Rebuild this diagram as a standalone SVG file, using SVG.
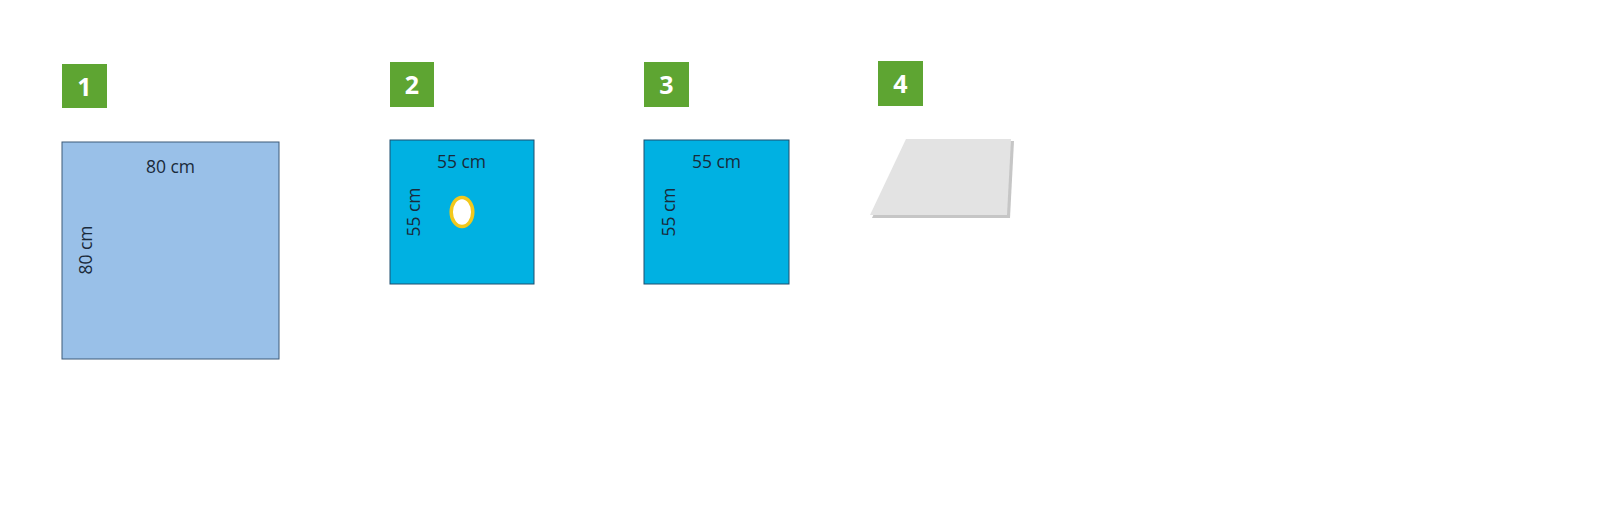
<svg xmlns="http://www.w3.org/2000/svg" width="1600" height="513" viewBox="0 0 1600 513">
<style>
.badge{fill:#5ea532}
.num{font-family:"Open Sans","Liberation Sans",sans-serif;font-weight:bold;font-size:25px;fill:#fff;text-anchor:middle}
.lbl{font-family:"Open Sans","Liberation Sans",sans-serif;font-size:17.5px;fill:#1a2a3a;text-anchor:middle}
.sheet1{fill:#99c0e8;stroke:#3c5a78;stroke-width:1}
.sheet2{fill:#00b1e2;stroke:#1f4e6e;stroke-width:1}
</style>
<rect width="1600" height="513" fill="#fff"/>
<g id="node1">
<rect class="badge" x="62" y="64" width="45" height="44"/>
<text class="num" x="84.5" y="95.5">1</text>
<rect class="sheet1" x="62" y="142" width="217" height="217"/>
<text class="lbl" x="170.5" y="173">80 cm</text>
<text class="lbl" transform="translate(91.5,250) rotate(-90)">80 cm</text>
</g>
<g id="node2">
<rect class="badge" x="390" y="62" width="44" height="45"/>
<text class="num" x="412" y="94">2</text>
<rect class="sheet2" x="390" y="140" width="144" height="144"/>
<text class="lbl" x="461.5" y="168">55 cm</text>
<text class="lbl" transform="translate(419.5,212) rotate(-90)">55 cm</text>
<ellipse cx="462" cy="212" rx="10.8" ry="14.6" fill="#fff" stroke="#f2c81c" stroke-width="3.5"/>
</g>
<g id="node3">
<rect class="badge" x="644" y="62" width="45" height="45"/>
<text class="num" x="666.5" y="94">3</text>
<rect class="sheet2" x="644" y="140" width="145" height="144"/>
<text class="lbl" x="716.5" y="168">55 cm</text>
<text class="lbl" transform="translate(674.5,212) rotate(-90)">55 cm</text>
</g>
<g id="node4">
<rect class="badge" x="878" y="61" width="45" height="45"/>
<text class="num" x="900.5" y="93">4</text>
<polygon points="908,141 1014,141 1010,218 872,218" fill="#c6c6c6"/>
<polygon points="906,139 1011,139 1007,215 870,215" fill="#e3e3e3"/>
</g>
<g id="connectors"/>
</svg>
